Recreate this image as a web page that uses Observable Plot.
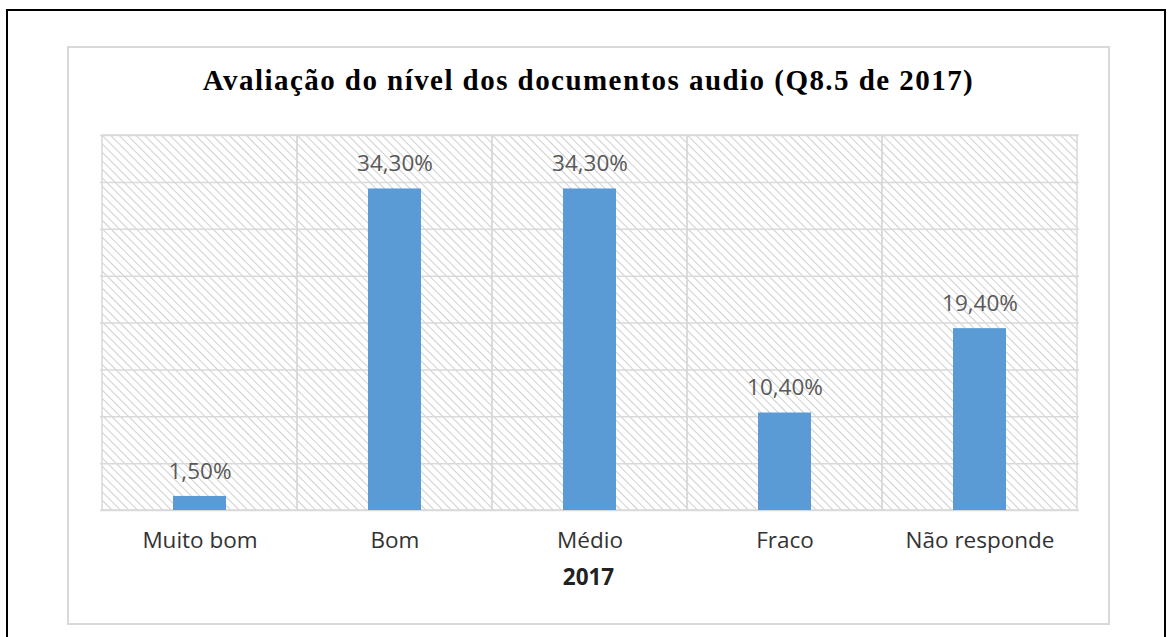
<!DOCTYPE html>
<html><head><meta charset="utf-8">
<script src="https://cdn.jsdelivr.net/npm/d3@7"></script>
<script src="https://cdn.jsdelivr.net/npm/@observablehq/plot@0.6"></script>
<style>
body{margin:0;background:#fff;width:1171px;height:637px;overflow:hidden;position:relative;font-family:"Open Sans",sans-serif;}
#outer{position:absolute;left:6px;top:9px;width:1160px;height:700px;border:2px solid #000;box-sizing:border-box;}
#inner{position:absolute;left:67px;top:46px;width:1043px;height:579px;border:2px solid #d9d9d9;box-sizing:border-box;}
#title{position:absolute;left:67px;width:1043px;top:64px;text-align:center;font-family:"Liberation Serif","Times New Roman",serif;font-weight:bold;font-size:29px;color:#000;letter-spacing:1.45px;white-space:nowrap;}
#xlabel{position:absolute;left:67px;width:1043px;top:561px;text-align:center;font-family:"Open Sans",sans-serif;font-weight:bold;font-size:22.5px;color:#222;}
#chart{position:absolute;left:0;top:0;}
</style></head>
<body>
<div id="outer"></div>
<div id="inner"></div>
<div id="chart"></div>
<div id="title">Avaliação do nível dos documentos audio (Q8.5 de 2017)</div>
<div id="xlabel">2017</div>
<script>
const categories = ["Muito bom","Bom","Médio","Fraco","Não responde"];
const values = [1.5, 34.3, 34.3, 10.4, 19.4];
const labels = ["1,50%","34,30%","34,30%","10,40%","19,40%"];
const yTicks = [0,5,10,15,20,25,30,35,40];

const data = categories.map((c,i)=>({cat:c, v:values[i], label:labels[i]}));

const plot = Plot.plot({
  width:1171, height:637,
  marginLeft:100, marginRight:92, marginTop:135, marginBottom:127,
  style:{background:"transparent", fontFamily:"'Open Sans', sans-serif"},
  x:{domain:categories, padding:0, label:null},
  y:{domain:[0,40], label:null},
  marks:[
    Plot.rectY(data,{x:"cat", y1:0, y2:40, fill:"url(#hatch)"}),
    Plot.ruleY(yTicks,{stroke:"#d9d9d9", strokeWidth:1.5}),
    Plot.rectY(data,{x:"cat", y1:0, y2:40, fill:"none", stroke:"#d9d9d9", strokeWidth:1.5}),
    Plot.barY(data,{x:"cat", y:"v", fill:"#5b9bd5", insetLeft:71, insetRight:71}),
    Plot.text(data,{x:"cat", y:"v", text:"label", dy:-25, fontSize:22.5, fill:"#595959"}),
    Plot.axisX({tickSize:0, tickPadding:22, fontSize:22.5, color:"#333", label:null}),
    Plot.axisY({ticks:[], label:null, tickSize:0})
  ]
});
const ns="http://www.w3.org/2000/svg";
const defs=document.createElementNS(ns,"defs");
defs.innerHTML='<pattern id="hatch" patternUnits="userSpaceOnUse" width="6" height="6" patternTransform="rotate(-45)"><rect width="6" height="6" fill="#fff"/><line x1="0" y1="0" x2="0" y2="6" stroke="#cfcfcf" stroke-width="2"/></pattern>';
plot.insertBefore(defs, plot.firstChild);
document.getElementById("chart").appendChild(plot);
</script>
</body></html>
